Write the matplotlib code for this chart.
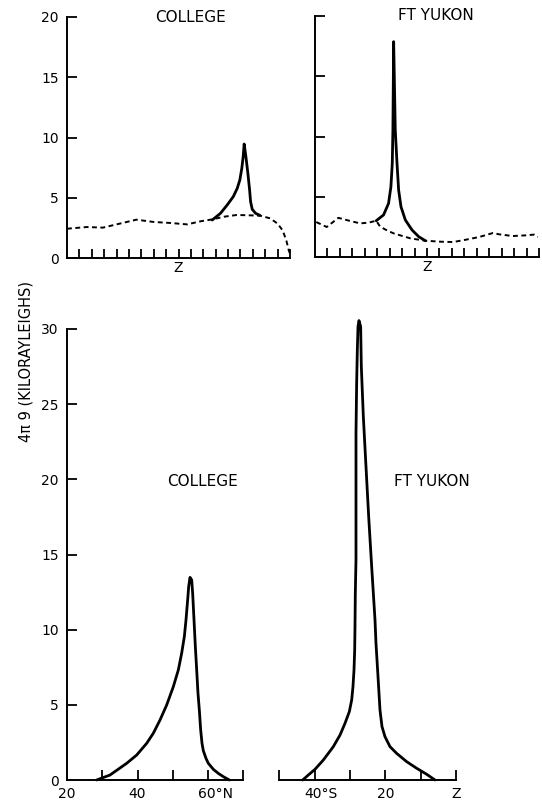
import matplotlib
matplotlib.use("Agg")
import matplotlib.pyplot as plt
import matplotlib.transforms as mtransforms

# --- data ---

# top panels: x is just tick position along the scan (Z at 9)
top_ticks = list(range(1, 19))
top_z_pos = 9

# College, top
college_top_dash_x = [0, 1.6, 2.9, 4.0, 5.6, 7.0, 8.3, 9.7, 10.8, 11.7, 12.7,
                      13.7, 14.8, 15.6, 16.4, 17.0, 17.4, 17.7, 17.9, 18.0]
college_top_dash_y = [2.43, 2.57, 2.52, 2.79, 3.18, 2.99, 2.91, 2.79, 3.05, 3.2,
                      3.43, 3.57, 3.54, 3.51, 3.29, 2.85, 2.30, 1.47, 0.64, 0.36]
college_top_x = [11.72, 12.39, 12.93, 13.42, 13.74, 13.95, 14.11, 14.22, 14.30,
                 14.44, 14.60, 14.74, 14.82, 14.95, 15.22, 15.57]
college_top_y = [3.15, 3.71, 4.40, 5.09, 5.78, 6.47, 7.44, 8.41, 9.46,
                 8.41, 7.03, 5.64, 4.67, 4.04, 3.71, 3.54]

# Ft Yukon, top
yukon_top_dash_x = [0.1, 0.94, 1.88, 2.82, 3.63, 4.3, 4.92, 5.24, 5.8, 6.32,
                    7.0, 7.66, 8.87, 10.1, 11.1, 12.1, 13.2, 14.3, 14.8, 15.9,
                    17.0, 17.6, 17.9]
yukon_top_dash_y = [2.9, 2.49, 3.25, 2.99, 2.79, 2.85, 3.01, 2.51, 2.2, 1.96,
                    1.75, 1.55, 1.35, 1.27, 1.24, 1.43, 1.66, 1.99, 1.88, 1.74,
                    1.80, 1.86, 1.66]
yukon_top_x = [4.92, 5.51, 5.91, 6.10, 6.21, 6.26, 6.32, 6.45, 6.59, 6.72,
               6.91, 7.26, 7.80, 8.33, 8.87]
yukon_top_y = [3.01, 3.49, 4.45, 5.83, 7.78, 10.54, 17.87, 10.54, 7.78, 5.56,
               4.17, 3.07, 2.24, 1.69, 1.35]

# College, bottom (latitude N)
college_lat = [28.41, 32.19, 36.92, 39.76, 42.60, 44.48, 46.38, 48.27, 50.16,
               51.57, 52.52, 53.28, 53.75, 54.22, 54.51, 54.88, 55.36, 55.64,
               56.02, 56.40, 56.78, 57.15, 57.53, 57.91, 58.29, 58.66, 59.42,
               60.08, 61.50, 62.92, 64.34, 66.04]
college_val = [0.0, 0.33, 1.11, 1.66, 2.44, 3.11, 3.99, 4.99, 6.21,
               7.32, 8.43, 9.54, 10.65, 11.98, 12.86, 13.48, 13.31, 12.42,
               10.65, 8.87, 7.32, 5.77, 4.66, 3.33, 2.44, 1.95, 1.44,
               1.11, 0.71, 0.44, 0.22, 0.0]
college_xticks = [20, 30, 40, 50, 60, 70]
college_xlabels = ["20", "", "40", "", "60°N", ""]

# Ft Yukon, bottom (zenith angle, south to the left)
yukon_zen = [43.39, 41.79, 39.90, 37.54, 34.71, 32.82, 31.41, 30.18, 29.52,
             29.15, 28.86, 28.67, 28.58, 28.49, 28.30, 28.30, 28.11, 27.92,
             27.73, 27.45, 26.98, 26.79, 26.22, 25.47, 24.71, 23.86, 22.92,
             22.64, 22.07, 21.51, 20.94, 20.09, 18.68, 16.79, 13.96, 11.13,
             8.30, 5.94]
yukon_val = [0.0, 0.33, 0.71, 1.33, 2.22, 2.99, 3.77, 4.55, 5.32,
             6.21, 7.32, 8.65, 10.20, 12.42, 14.64, 23.07, 26.39, 28.61,
             30.16, 30.56, 30.16, 27.50, 24.17, 20.85, 17.52, 14.19, 10.65,
             9.09, 6.88, 4.66, 3.55, 2.88, 2.22, 1.77, 1.22, 0.78,
             0.38, 0.0]
yukon_xticks = [50, 40, 30, 20, 10, 0]
yukon_xlabels = ["", "40°S", "", "20", "", "Z"]

top_yticks = [0, 5, 10, 15, 20]
bottom_yticks = [0, 5, 10, 15, 20, 25, 30]

FONT = "DejaVu Sans"
SOLID_LW = 2.0
DASH = (0, (2.5, 1.8))

plt.rcParams["font.family"] = FONT

fig = plt.figure(figsize=(5.42, 8.06), dpi=100)
fig.patch.set_facecolor("white")

W, H = 542.0, 806.0


def box(x0, y_top, x1, y_bot):
    # pixel box -> figure fraction
    return [x0 / W, 1 - y_bot / H, (x1 - x0) / W, (y_bot - y_top) / H]


def style_axes(ax, left_spine=True):
    for s in ["top", "right"]:
        ax.spines[s].set_visible(False)
    for s in ["left", "bottom"]:
        ax.spines[s].set_linewidth(1.4)
        ax.spines[s].set_color("black")
    if not left_spine:
        ax.spines["left"].set_visible(False)
        ax.tick_params(axis="y", left=False, labelleft=False)
    ax.tick_params(axis="both", direction="in", length=7, width=1.3,
                   labelsize=10, colors="black")
    ax.tick_params(axis="y", pad=6)
    ax.tick_params(axis="x", pad=5)


def curve(ax, x, y, **kw):
    ax.plot(x, y, color="black", clip_on=False, solid_joinstyle="round",
            solid_capstyle="round", **kw)


# --------- top panels ---------

ax_tl = fig.add_axes(box(67, 17, 290, 258))
ax_tr = fig.add_axes(box(315, 16, 539, 257))

for ax in (ax_tl, ax_tr):
    style_axes(ax)
    ax.set_xlim(0, 18)
    ax.set_ylim(0, 20)
    ax.set_yticks(top_yticks)
    ax.set_xticks(top_ticks)
    ax.set_xticklabels(["Z" if t == top_z_pos else "" for t in top_ticks])
    ax.tick_params(axis="x", pad=2, length=6.5)

ax_tr.set_yticklabels([])

curve(ax_tl, college_top_dash_x, college_top_dash_y, lw=1.4, linestyle=DASH)
curve(ax_tl, college_top_x, college_top_y, lw=SOLID_LW)

curve(ax_tr, yukon_top_dash_x, yukon_top_dash_y, lw=1.4, linestyle=DASH)
curve(ax_tr, yukon_top_x, yukon_top_y, lw=SOLID_LW)

ax_tl.text(0.556, 1.0, "COLLEGE", transform=ax_tl.transAxes, ha="center",
           va="center", fontsize=11)
ax_tr.text(0.54, 1.0, "FT YUKON", transform=ax_tr.transAxes, ha="center",
           va="center", fontsize=11)

# --------- bottom panels ---------

ax_bl = fig.add_axes(box(67, 329, 243.3, 780))
ax_br = fig.add_axes(box(279.3, 329, 456, 780))

style_axes(ax_bl)
style_axes(ax_br, left_spine=False)

ax_bl.set_xlim(20, 70)
ax_bl.set_ylim(0, 30)
ax_bl.set_yticks(bottom_yticks)
ax_bl.set_xticks(college_xticks)
ax_bl.set_xticklabels(college_xlabels)

ax_br.set_xlim(50, 0)
ax_br.set_ylim(0, 30)
ax_br.set_xticks(yukon_xticks)
ax_br.set_xticklabels(yukon_xlabels)

# degree labels hang to the right of their tick, like the original lettering
shift = mtransforms.ScaledTranslation(-7.5 / 72, 0, fig.dpi_scale_trans)
for ax, lab in ((ax_bl, "60°N"), (ax_br, "40°S")):
    for t in ax.get_xticklabels():
        if t.get_text() == lab:
            t.set_horizontalalignment("left")
            t.set_transform(t.get_transform() + shift)

# the corner ticks of the college panel sit on the spines; hide them
ax_bl.xaxis.get_major_ticks()[0].tick1line.set_visible(False)
ax_bl.yaxis.get_major_ticks()[0].tick1line.set_visible(False)

curve(ax_bl, college_lat, college_val, lw=SOLID_LW)
curve(ax_br, yukon_zen, yukon_val, lw=SOLID_LW)

ax_bl.text(0.771, 0.661, "COLLEGE", transform=ax_bl.transAxes, ha="center",
           va="center", fontsize=11)
ax_br.text(0.864, 0.661, "FT YUKON", transform=ax_br.transAxes, ha="center",
           va="center", fontsize=11)

# shared y label
fig.text(26 / W, 1 - 362 / H, "4π 9 (KILORAYLEIGHS)", rotation=90,
         ha="center", va="center", fontsize=10.5)

fig.savefig("out.png", dpi=100, facecolor="white")
plt.close(fig)
